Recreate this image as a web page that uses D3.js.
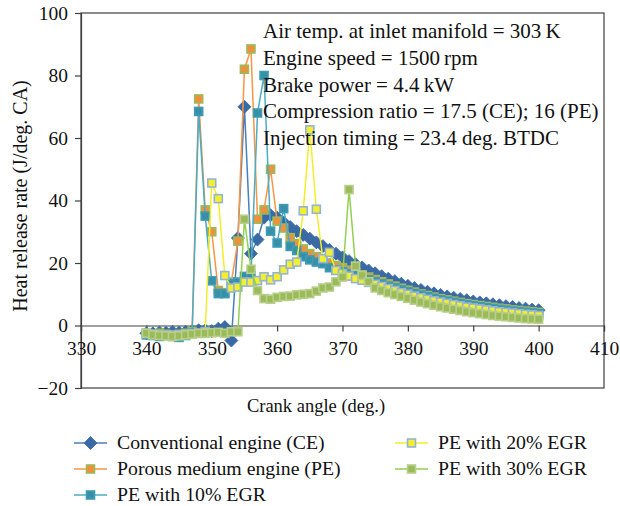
<!DOCTYPE html>
<html><head><meta charset="utf-8">
<script src="https://cdn.jsdelivr.net/npm/d3@7"></script>
<style>body{margin:0;background:#fff}svg{display:block}text{font-family:"Liberation Serif","DejaVu Serif",serif;fill:#111}</style>
</head><body><svg id="c" width="620" height="506"></svg>
<script>
const angles = d3.range(340, 401, 1);
const seriesNames = ["Conventional engine (CE)", "Porous medium engine (PE)", "PE with 10% EGR", "PE with 20% EGR", "PE with 30% EGR"];
const ce = [-2.5,-2.5,-2.2,-2.3,-2.0,-2.2,-2.0,-1.8,-1.5,-1.5,-1.8,-1.0,-0.5,-4.8,
  28,70,23,27.5,34.5,35.3,34.5,33,
  31.5,30.2,29,27.8,26.6,25.4,24.2,23,21.8,20.6,19.6,18.6,17.6,16.7,15.8,15,14.2,13.4,12.7,12,11.4,10.8,10.3,9.8,9.3,8.9,8.5,8.1,7.7,7.4,7.1,6.8,6.5,6.2,5.9,5.6,5.4,5.1,4.9];
const pe = [-2.5,-2.8,-2.5,-2.8,-3,-2.8,-2.5,-2,
  72.5,37,30,11.2,10.5,13.9,27,82,88.5,34,37,50,33.4,31.2,
  28.1,26.2,24.5,23,22,21,20,19.2,18.5,17.7,17,16.2,15.5,14.7,14,13.3,12.6,11.9,11.3,10.7,10.1,9.6,9.1,8.6,8.2,7.8,7.4,7,6.7,6.4,6.1,5.8,5.5,5.3,5,4.8,4.6,4.4,4.2];
const egr10 = [-3,-3.2,-3.5,-3.2,-3.5,-3.8,-3.2,-2.5,
  68.5,35,14.3,10.2,10.2,13.4,13.9,15.7,16,68,80,30.2,26.4,37.4,
  25.3,24,22,21,20.3,19.8,18.5,17.8,17.2,16.6,16,15.3,14.6,14,13.3,12.6,12,11.4,10.8,10.2,9.7,9.2,8.7,8.2,7.8,7.4,7,6.6,6.3,6,5.7,5.4,5.1,4.9,4.6,4.4,4.2,4,3.8];
const egr20 = [-2.5,-2.8,-3,-3,-3.2,-3,-2.8,-2.7,-2.5,-2,
  45.6,40.6,16,12,12.3,13.9,13.9,14.4,15.6,14.6,15.6,17.8,19.6,20.3,36.7,62.6,37.2,21.4,23.4,17.6,
  16.6,15.8,15,14.5,13.8,13.2,12.5,11.8,11.2,10.5,10,9.4,8.9,8.4,7.9,7.5,7.1,6.7,6.3,5.9,5.6,5.3,5,4.7,4.4,4.2,4,3.8,3.6,3.4,3.2];
const egr30 = [-2.5,-3,-3.2,-3.3,-3.5,-3.3,-3,-2.8,-2.5,-2.5,-2.3,-2.2,-2.5,-2,-2,
  34,18,11.2,8.6,8.4,9,9.3,9.4,9.8,10,10.2,11,12,12.3,14,15.5,43.5,19,16,14,12,
  11.2,10.5,9.9,9.3,8.7,8.1,7.5,7,6.5,6,5.6,5.2,4.8,4.4,4.1,3.8,3.5,3.2,3,2.8,2.6,2.4,2.2,2.1,2];
const xTicks = [330,340,350,360,370,380,390,400,410];
const yTicks = [-20,0,20,40,60,80,100];
const notes = ["Air temp. at inlet manifold = 303\u2009K","Engine speed = 1500\u2009rpm","Brake power = 4.4\u2009kW","Compression ratio = 17.5 (CE); 16 (PE)","Injection timing = 23.4 deg. BTDC"];

const styles = [
  {line:"#4a7ebb", fill:"#3a6aa5", stroke:"#3a6aa5", shape:"diamond"},
  {line:"#f79646", fill:"#f0903e", stroke:"#9bbb59", shape:"square"},
  {line:"#4bacc6", fill:"#3790a8", stroke:"#3f9bb4", shape:"square"},
  {line:"#f2ee2a", fill:"#f2ee30", stroke:"#95b3d7", shape:"square"},
  {line:"#92d050", fill:"#9bbb59", stroke:"#b8cf8c", shape:"square"}
];
const allData = [ce, pe, egr10, egr20, egr30];

const svg = d3.select("#c");
const x = d3.scaleLinear().domain([330,410]).range([81,604]);
const y = d3.scaleLinear().domain([-20,100]).range([388,13]);
const axisCol = "#404040";

// frame
svg.append("rect").attr("x",x(330)).attr("y",y(100)).attr("width",x(410)-x(330)).attr("height",y(-20)-y(100))
  .attr("fill","none").attr("stroke",axisCol).attr("stroke-width",1.2);

// y axis
const ya = svg.append("g").attr("transform",`translate(${x(330)},0)`)
  .call(d3.axisLeft(y).tickValues(yTicks).tickSize(6).tickPadding(7).tickFormat(d=> d<0 ? "\u2212"+Math.abs(d) : d));
ya.select(".domain").attr("stroke",axisCol).attr("stroke-width",1.2);
ya.selectAll(".tick line").attr("stroke",axisCol).attr("stroke-width",1.2);
ya.selectAll(".tick text").style("font-family","Liberation Serif").style("font-size","19.5px").attr("fill","#111");

// x axis at y=0
const xa = svg.append("g").attr("transform",`translate(0,${y(0)})`)
  .call(d3.axisBottom(x).tickValues(xTicks).tickSize(6).tickPadding(10).tickFormat(d3.format("d")));
xa.select(".domain").attr("stroke",axisCol).attr("stroke-width",1.2);
xa.selectAll(".tick line").attr("stroke",axisCol).attr("stroke-width",1.2);
xa.selectAll(".tick text").style("font-family","Liberation Serif").style("font-size","19.5px").attr("fill","#111");

// titles
svg.append("text").attr("x",316).attr("y",412).attr("text-anchor","middle").style("font-size","18.5px").text("Crank angle (deg.)");
svg.append("text").attr("transform","translate(27,196) rotate(-90)").attr("text-anchor","middle").style("font-size","20px").text("Heat release rate (J/deg. CA)");

// series
const line = d3.line().x((d,i)=>x(angles[i])).y(d=>y(d));
function marker(g, s, cx, cy){
  if(s.shape==="diamond"){
    g.append("path").attr("d",`M${cx},${cy-6.5}L${cx+6.5},${cy}L${cx},${cy+6.5}L${cx-6.5},${cy}Z`)
      .attr("fill",s.fill).attr("stroke",s.stroke).attr("stroke-width",0.8);
  } else {
    g.append("rect").attr("x",cx-4).attr("y",cy-4).attr("width",8).attr("height",8)
      .attr("fill",s.fill).attr("stroke",s.stroke).attr("stroke-width",1.6);
  }
}
allData.forEach((arr,k)=>{
  const s = styles[k];
  const g = svg.append("g");
  g.append("path").datum(arr).attr("d",line).attr("fill","none").attr("stroke",s.line).attr("stroke-width",1.5);
  arr.forEach((v,i)=>marker(g,s,x(angles[i]),y(v)));
});

// notes
const nt = svg.append("text").attr("x",263).attr("y",38).style("font-size","21px");
notes.forEach((t,i)=>nt.append("tspan").attr("x",263).attr("y",38.3+i*26.6).text(t));

// legend
const legPos = [[74,443],[74,469],[74,495],[395,443],[395,469]];
seriesNames.forEach((n,k)=>{
  const s = styles[k];
  const [lx,ly] = legPos[k];
  const g = svg.append("g");
  g.append("line").attr("x1",lx).attr("x2",lx+33).attr("y1",ly).attr("y2",ly).attr("stroke",s.line).attr("stroke-width",1.5);
  marker(g,s,lx+16.5,ly);
  g.append("text").attr("x",lx+43).attr("y",ly+6).style("font-size","19.8px").text(n);
});
</script></body></html>
